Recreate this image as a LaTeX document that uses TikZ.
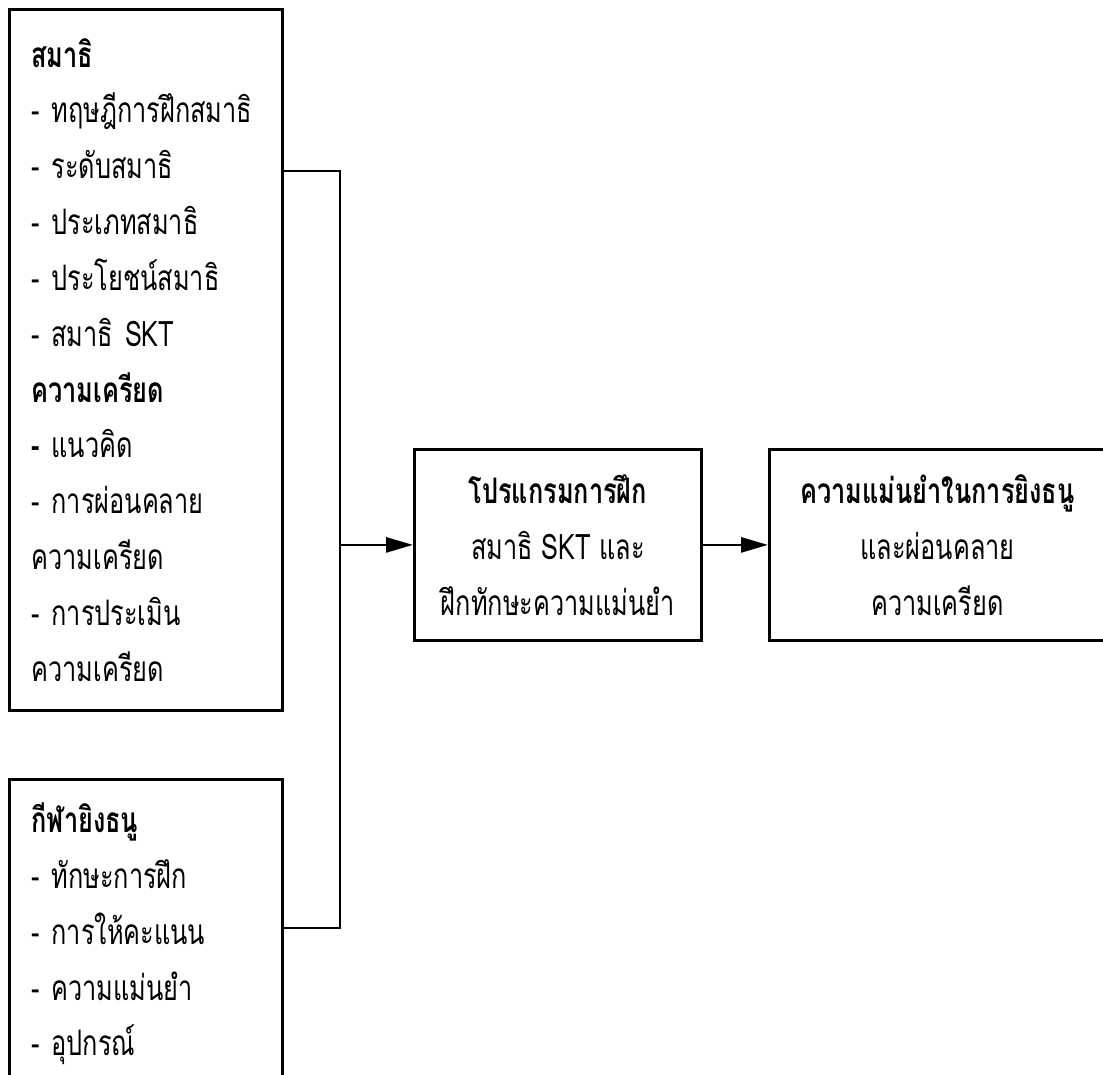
\documentclass[tikz,border=0pt]{standalone}
\usepackage{fontspec}
\setmainfont[Script=Thai, FakeStretch=0.72]{Loma}
\usetikzlibrary{arrows.meta,positioning}
\def\px{0.025cm}
\def\textSize{25}
\def\lineSkip{39.7}
\tikzset{
  box/.style={draw, line width=2pt, rectangle, inner sep=0pt,
    font=\fontsize{\textSize}{\lineSkip}\selectfont},
  sidebox/.style={box, anchor=north west, align=left,
    text width={229*\px}, inner xsep={22*\px}},
  midbox/.style={box, anchor=north west, align=center,
    minimum height={191*\px}},
  link/.style={line width=2pt},
  flow/.style={link, -{Triangle[length={27*\px}, width={15*\px}]}},
}

\begin{document}
\begin{tikzpicture}[x=\px, y=-\px]
\useasboundingbox (0,0) rectangle (1103,1075);
% left column
\node [sidebox, minimum height={701*\px}] (samadhi) at (8,8) {%
\textbf{สมาธิ}\\
- ทฤษฎีการฝึกสมาธิ\\
- ระดับสมาธิ\\
- ประเภทสมาธิ\\
- ประโยชน์สมาธิ\\
- สมาธิ SKT\\
\textbf{ความเครียด}\\
\textbf{-} แนวคิด\\
- การผ่อนคลาย\\
ความเครียด\\
- การประเมิน\\
ความเครียด};
\node [sidebox, minimum height={309*\px}] (archery) at (8,778) {%
\textbf{กีฬายิงธนู}\\
- ทักษะการฝึก\\
- การให้คะแนน\\
- ความแม่นยำ\\
- อุปกรณ์};
% middle and right
\node [midbox, minimum width={287*\px}] (program) at (413,448) {%
\textbf{โปรแกรมการฝึก}\\
สมาธิ SKT และ\\
ฝึกทักษะความแม่นยำ};
\node [midbox, minimum width={336*\px}] (accuracy) at (768,448) {%
\textbf{ความแม่นยำในการยิงธนู}\\
และผ่อนคลาย\\
ความเครียด};
% connectors
\coordinate (topjoin) at (340,171);
\coordinate (bottomjoin) at (340,928);
\draw [link] (samadhi.east |- topjoin) -- (topjoin) -- (bottomjoin)
  -- (archery.east |- bottomjoin);
\draw [flow] (program.west -| topjoin) -- (program.west);
\draw [flow] (program.east) -- (accuracy.west);
\end{tikzpicture}
\end{document}
